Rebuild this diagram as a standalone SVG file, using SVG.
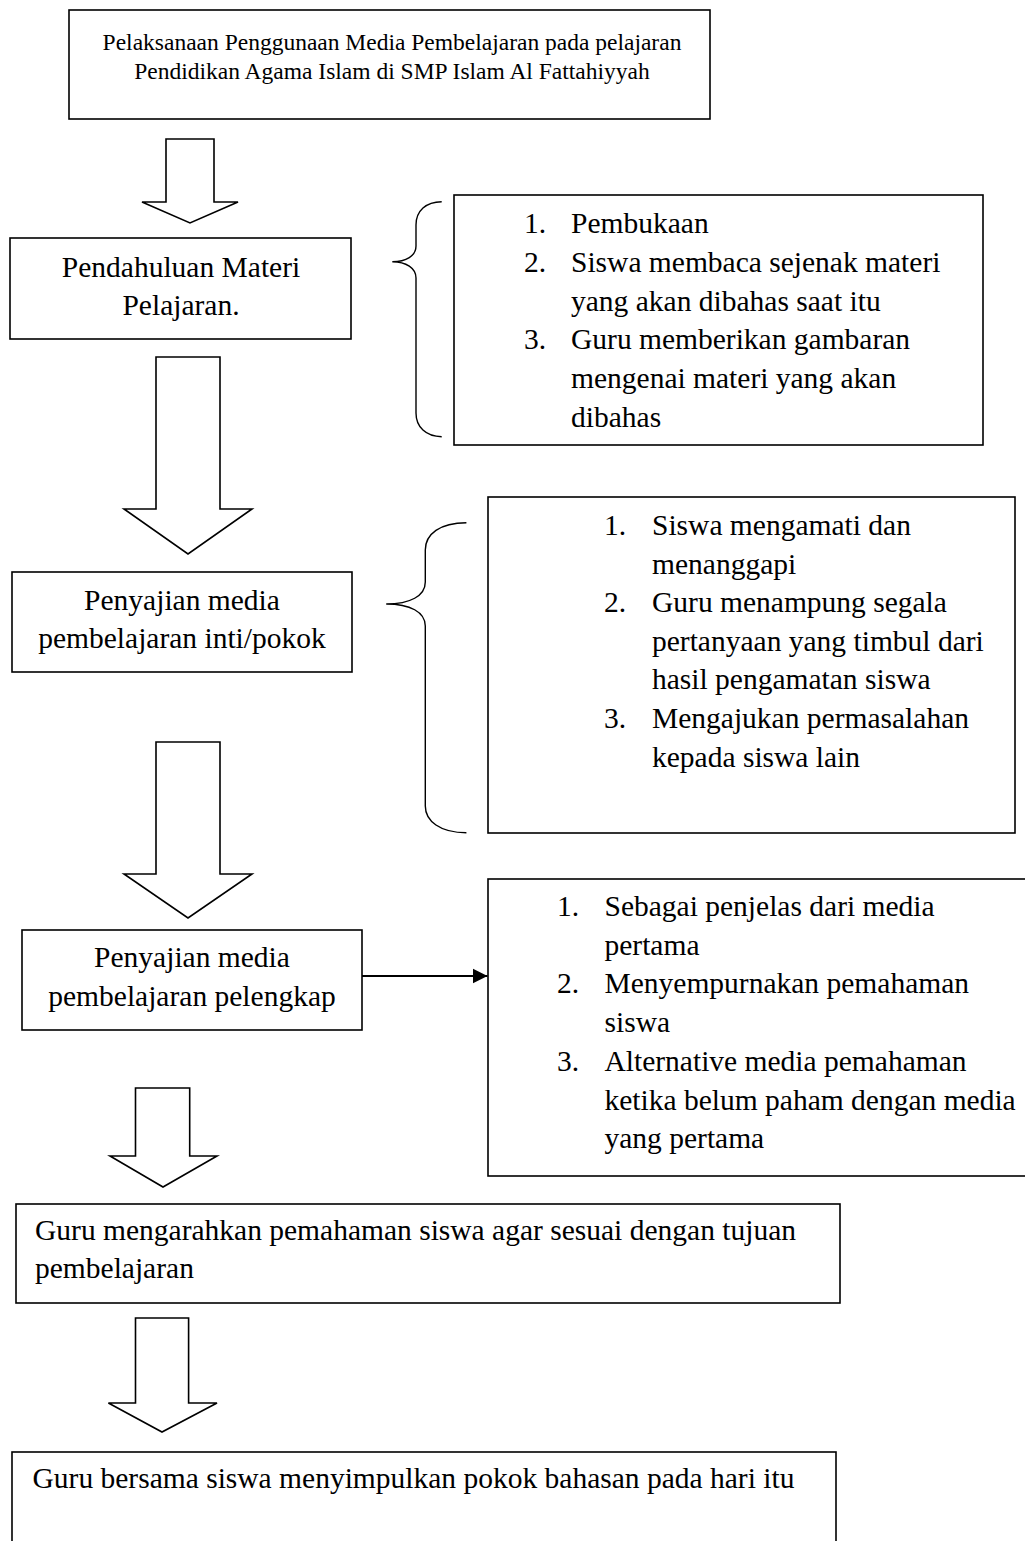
<svg xmlns="http://www.w3.org/2000/svg" width="1025" height="1541" viewBox="0 0 1025 1541">
<style>
  .box { fill: #ffffff; stroke: #000000; stroke-width: 1.6; }
  .brace { fill: none; stroke: #000000; stroke-width: 1.4; }
  .blk { fill: #ffffff; stroke: #000000; stroke-width: 1.6; stroke-linejoin: miter; }
  .ln { fill: none; stroke: #000000; stroke-width: 1.8; }
  text { font-family: "Liberation Serif", "Times New Roman", serif; font-size: 29.5px; fill: #000000; }
  .small { font-size: 23.5px; }
  .c { text-anchor: middle; }
</style>
<defs>
  <marker id="ah" markerWidth="16" markerHeight="16" refX="15" refY="8" orient="auto" markerUnits="userSpaceOnUse" viewBox="0 0 16 16">
    <path d="M0,0.5 L15,8 L0,15.5 Z" fill="#000000"/>
  </marker>
</defs>
<rect x="0" y="0" width="1025" height="1541" fill="#ffffff"/>

<g id="node-title">
  <rect class="box" x="69" y="10" width="641" height="109"/>
  <text class="small c" x="392" y="50">Pelaksanaan Penggunaan Media Pembelajaran pada pelajaran</text>
  <text class="small c" x="392" y="79">Pendidikan Agama Islam di SMP Islam Al Fattahiyyah</text>
</g>

<g id="node-pendahuluan">
  <rect class="box" x="10" y="238" width="341" height="101"/>
  <text class="c" x="181" y="277">Pendahuluan Materi</text>
  <text class="c" x="181" y="315">Pelajaran.</text>
</g>

<g id="node-list1">
  <path class="brace" d="M441.7,201.7 C426,201.7 416,211 416,225 L416,246 C416,256 406,261.7 392.3,261.7 C406,261.7 416,268 416,278 L416,413 C416,427 426,436.7 441.7,436.7"/>
  <rect class="box" x="454" y="195" width="529" height="250"/>
  <text x="524" y="233">1.</text><text x="571" y="233">Pembukaan</text>
  <text x="524" y="272">2.</text><text x="571" y="272">Siswa membaca sejenak materi</text>
  <text x="571" y="310.6">yang akan dibahas saat itu</text>
  <text x="524" y="349.4">3.</text><text x="571" y="349.4">Guru memberikan gambaran</text>
  <text x="571" y="388.2">mengenai materi yang akan</text>
  <text x="571" y="427">dibahas</text>
</g>

<g id="node-inti">
  <rect class="box" x="12" y="572" width="340" height="100"/>
  <text class="c" x="182" y="610">Penyajian media</text>
  <text class="c" x="182" y="648">pembelajaran inti/pokok</text>
</g>

<g id="node-list2">
  <path class="brace" d="M466.4,522.7 C440,522.7 425.3,534 425.3,550 L425.3,582 C425.3,596 410,604 386.2,604 C410,604 425.3,612 425.3,626 L425.3,806 C425.3,821 440,832.7 466.4,832.7"/>
  <rect class="box" x="488" y="497" width="527" height="336"/>
  <text x="604" y="535">1.</text><text x="652" y="535">Siswa mengamati dan</text>
  <text x="652" y="573.6">menanggapi</text>
  <text x="604" y="612.2">2.</text><text x="652" y="612.2">Guru menampung segala</text>
  <text x="652" y="650.8">pertanyaan yang timbul dari</text>
  <text x="652" y="689.4">hasil pengamatan siswa</text>
  <text x="604" y="728">3.</text><text x="652" y="728">Mengajukan permasalahan</text>
  <text x="652" y="766.6">kepada siswa lain</text>
</g>

<g id="node-pelengkap">
  <rect class="box" x="22" y="930" width="340" height="100"/>
  <text class="c" x="192" y="967">Penyajian media</text>
  <text class="c" x="192" y="1006">pembelajaran pelengkap</text>
</g>

<g id="node-list3">
  <rect class="box" x="488" y="879" width="560" height="297"/>
  <text x="557" y="916">1.</text><text x="604.5" y="916">Sebagai penjelas dari media</text>
  <text x="604.5" y="954.7">pertama</text>
  <text x="557" y="993.4">2.</text><text x="604.5" y="993.4">Menyempurnakan pemahaman</text>
  <text x="604.5" y="1032.1">siswa</text>
  <text x="557" y="1070.8">3.</text><text x="604.5" y="1070.8">Alternative media pemahaman</text>
  <text x="604.5" y="1109.5">ketika belum paham dengan media</text>
  <text x="604.5" y="1148.2">yang pertama</text>
</g>

<g id="node-mengarahkan">
  <rect class="box" x="16" y="1204" width="824" height="99"/>
  <text x="35" y="1240">Guru mengarahkan pemahaman siswa agar sesuai dengan tujuan</text>
  <text x="35" y="1278">pembelajaran</text>
</g>

<g id="node-menyimpulkan">
  <rect class="box" x="12" y="1452" width="824" height="110"/>
  <text x="32.5" y="1488">Guru bersama siswa menyimpulkan pokok bahasan pada hari itu</text>
</g>

<g id="connectors">
  <polygon class="blk" points="166,139 214,139 214,202 238,202 190,223 142,202 166,202"/>
  <polygon class="blk" points="156,357 220,357 220,509 252,509 188,554 124,509 156,509"/>
  <polygon class="blk" points="156,742 220,742 220,874 252,874 188,918 124,874 156,874"/>
  <polygon class="blk" points="135.5,1088 189.7,1088 189.7,1156 217,1156 163,1187 110,1156 135.5,1156"/>
  <polygon class="blk" points="135.5,1318 188.6,1318 188.6,1403 217,1403 162,1432 108.4,1403 135.5,1403"/>
  <line class="ln" x1="362" y1="976" x2="487.5" y2="976" marker-end="url(#ah)"/>
</g>
</svg>
